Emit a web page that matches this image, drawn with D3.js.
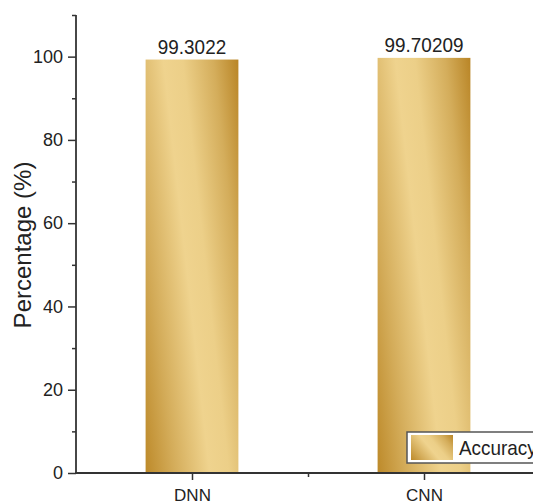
<!DOCTYPE html>
<html>
<head>
<meta charset="utf-8">
<script src="https://cdn.jsdelivr.net/npm/d3@7"></script>
<style>
html,body{margin:0;padding:0;background:#fff;}
svg{display:block;}
text{font-family:"Liberation Sans",Arial,sans-serif;fill:#222;}
</style>
</head>
<body>
<div id="chart"></div>
<script>
const categories = ["DNN", "CNN"];
const accuracy = [99.3022, 99.70209];
const valueLabels = ["99.3022", "99.70209"];
const yMajorTicks = [0, 20, 40, 60, 80, 100];
const yMinorTicks = [10, 30, 50, 70, 90, 110];
const seriesName = "Accuracy";
const yTitle = "Percentage (%)";

const W = 533, H = 504;
const svg = d3.select("#chart").append("svg").attr("width", W).attr("height", H);

const x = d3.scaleLinear().domain([0.5, 2.5]).range([76, 540]);
const y = d3.scaleLinear().domain([0, 110]).range([473, 15]);

const defs = svg.append("defs");
const grad = defs.append("linearGradient").attr("id", "gold")
  .attr("x1", -0.1).attr("y1", 0.8).attr("x2", 1.1).attr("y2", 0.2);
[[0, "#bd8a2a"], [0.2, "#d3ab58"], [0.46, "#efd38e"], [0.6, "#eccf88"], [0.82, "#d4ad5b"], [1, "#b98526"]]
  .forEach(([o, c]) => grad.append("stop").attr("offset", o).attr("stop-color", c));

const barW = 0.4;
svg.append("g").selectAll("rect").data(accuracy).join("rect")
  .attr("x", (d, i) => x(i + 1 - barW / 2))
  .attr("width", (d, i) => x(i + 1 + barW / 2) - x(i + 1 - barW / 2))
  .attr("y", d => y(d))
  .attr("height", d => y(0) - y(d))
  .attr("fill", "url(#gold)");

svg.append("g").selectAll("text").data(accuracy).join("text")
  .attr("transform", (d, i) => `translate(${x(i + 1)},${y(d) - 6}) scale(0.9,1)`)
  .attr("text-anchor", "middle")
  .attr("font-size", 21)
  .text((d, i) => valueLabels[i]);

// Y axis
const axisColor = "#333";
const yAxis = svg.append("g").attr("transform", `translate(${x(0.5)},0)`)
  .call(d3.axisLeft(y).tickValues(yMajorTicks).tickSize(8).tickPadding(5).tickFormat(d3.format("d")));
yAxis.select(".domain").remove();
yAxis.selectAll("line").attr("stroke", axisColor).attr("stroke-width", 1.5);
yAxis.selectAll("text").attr("font-size", 18).attr("fill", "#222").attr("font-family", "Liberation Sans, Arial, sans-serif");
const yMinor = svg.append("g").attr("transform", `translate(${x(0.5)},0)`)
  .call(d3.axisLeft(y).tickValues(yMinorTicks).tickSize(4).tickFormat(""));
yMinor.select(".domain").remove();
yMinor.selectAll("line").attr("stroke", axisColor).attr("stroke-width", 1.5);
svg.append("line").attr("x1", x(0.5)).attr("x2", x(0.5)).attr("y1", y(110)).attr("y2", y(0))
  .attr("stroke", axisColor).attr("stroke-width", 1.8);

// X axis
const xAxis = svg.append("g").attr("transform", `translate(0,${y(0)})`)
  .call(d3.axisBottom(x).tickValues([1, 2]).tickSize(7).tickPadding(9).tickFormat(d => categories[d - 1]));
xAxis.select(".domain").remove();
xAxis.selectAll("line").attr("stroke", axisColor).attr("stroke-width", 1.5);
xAxis.selectAll("text").attr("font-size", 17).attr("fill", "#222").attr("font-family", "Liberation Sans, Arial, sans-serif");
const xMinor = svg.append("g").attr("transform", `translate(0,${y(0)})`)
  .call(d3.axisBottom(x).tickValues([1.5]).tickSize(4).tickFormat(""));
xMinor.select(".domain").remove();
xMinor.selectAll("line").attr("stroke", axisColor).attr("stroke-width", 1.5);
svg.append("line").attr("x1", x(0.5) - 1).attr("x2", x(2.5)).attr("y1", y(0)).attr("y2", y(0))
  .attr("stroke", axisColor).attr("stroke-width", 1.8);

// Y title
svg.append("text")
  .attr("transform", `translate(31,${(y(110) + y(0)) / 2 + 1}) rotate(-90)`)
  .attr("text-anchor", "middle")
  .attr("font-size", 24)
  .text(yTitle);

// Legend
const lg = svg.append("g");
lg.append("rect").attr("x", 407).attr("y", 432).attr("width", 140).attr("height", 31)
  .attr("fill", "#fff").attr("stroke", "#555").attr("stroke-width", 1.5);
lg.append("rect").attr("x", 411).attr("y", 435).attr("width", 42).attr("height", 25)
  .attr("fill", "url(#gold)");
lg.append("text").attr("transform", "translate(459,455) scale(0.9,1)").attr("font-size", 21).text(seriesName);
</script>
</body>
</html>
